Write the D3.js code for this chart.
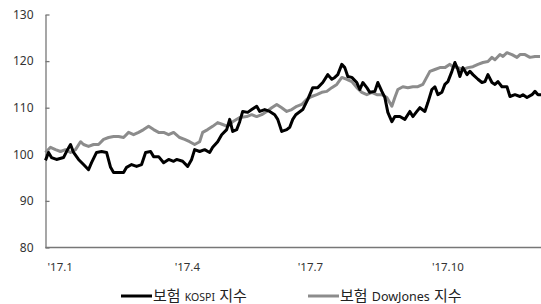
<!DOCTYPE html>
<html lang="ko">
<head>
<meta charset="utf-8">
<title>보험 KOSPI vs DowJones</title>
<script src="https://d3js.org/d3.v7.min.js"></script>
<style>
  body { margin: 0; background: #fff; }
  svg text { font-family: "Noto Sans", "Noto Sans CJK KR", sans-serif; }
</style>
</head>
<body>
<script>
// data: [trading day index, index value] (2017.1.2 = 100 basis)
var kospi = [
  [0, 98.7], [1.5, 100.4], [3, 99.3], [5.5, 98.9], [9, 99.3], [11, 101.0], [12.5, 102.1], [14, 100.4],
  [16.5, 98.9], [19, 97.8], [21.5, 96.7], [23, 98.2], [25.5, 100.4], [28, 100.6], [30.5, 100.4], [32.5, 97.2],
  [34, 96.1], [36.5, 96.1], [39, 96.1], [40.5, 97.2], [43, 97.8], [45.5, 97.4], [48, 97.8], [50, 100.4],
  [52.5, 100.6], [54, 99.5], [56.5, 99.5], [59, 98.2], [61.5, 98.9], [64, 98.5], [65.5, 98.9], [68.5, 98.5],
  [71, 97.4], [73, 98.9], [74.5, 101.0], [77, 100.6], [79.5, 101.0], [82, 100.4], [83.5, 101.5], [86, 102.7],
  [88, 104.2], [90.5, 105.3], [92, 107.5], [93.5, 104.9], [95.5, 105.3], [97, 107.0], [98.5, 109.2], [101, 109.0],
  [103, 109.6], [105.5, 110.3], [107, 109.2], [109.5, 109.6], [112, 109.2], [114.5, 108.5], [116, 107.5], [118, 104.9],
  [120.5, 105.3], [122, 105.8], [123.5, 107.5], [125, 108.5], [128.5, 109.6], [131, 111.8], [133.5, 114.3], [136, 114.3],
  [138.5, 115.4], [141, 117.1], [143, 116.1], [144.5, 116.5], [146, 117.1], [148, 119.3], [149.5, 118.6], [151, 116.7],
  [153, 116.5], [155.5, 115.4], [157, 113.9], [158.5, 115.4], [160.5, 114.3], [162, 113.3], [164.5, 113.5], [166, 115.4],
  [168, 113.5], [169.5, 112.2], [171, 109.0], [173, 107.0], [174.5, 108.1], [177, 108.1], [179.5, 107.5], [182, 109.2],
  [183.5, 108.1], [185.5, 109.2], [187, 110.0], [189.5, 109.2], [191, 111.1], [193, 113.9], [194.5, 114.5], [196, 112.8],
  [198, 113.3], [199.5, 115.0], [201, 115.6], [203, 117.8], [204.5, 119.7], [206, 118.2], [207, 116.7], [208.5, 118.6],
  [210.5, 117.1], [212, 117.8], [213.5, 117.1], [216, 116.1], [218, 115.4], [219.5, 115.6], [221, 117.1], [223, 115.4],
  [224.5, 115.0], [226, 115.6], [228, 114.5], [230.5, 114.5], [232, 112.4], [234.5, 112.8], [237, 112.4], [238.5, 112.8],
  [240.5, 112.2], [243, 112.8], [244.5, 113.5], [246, 112.8], [247.5, 112.8]
];
var dowjones = [
  [0, 100.4], [2.5, 101.5], [5, 101.0], [7.5, 100.6], [10, 101.0], [12.5, 100.4], [15, 101.0], [17.5, 102.7],
  [19, 102.1], [21.5, 101.7], [24, 102.1], [26.5, 102.1], [29, 103.2], [31.5, 103.6], [34, 103.8], [36.5, 103.8],
  [39, 103.6], [41.5, 104.7], [44, 104.2], [46.5, 104.7], [49, 105.3], [51.5, 106.0], [54, 105.3], [56.5, 104.7],
  [59, 104.7], [61.5, 104.2], [64, 104.7], [67, 103.6], [69.5, 103.2], [72, 102.7], [74.5, 102.1], [77, 102.7],
  [78.5, 104.7], [81, 105.3], [83.5, 106.0], [86, 106.8], [88.5, 106.4], [91, 106.0], [93.5, 107.0], [97, 107.9],
  [100.5, 108.1], [103, 108.5], [105.5, 108.1], [108, 108.5], [110.5, 109.2], [113, 110.0], [115.5, 110.7], [118, 110.0],
  [120.5, 109.2], [123, 109.6], [125.5, 110.3], [128, 110.7], [130.5, 111.8], [133, 112.4], [135.5, 112.8], [138, 113.3],
  [140.5, 113.5], [143, 114.3], [145.5, 115.0], [148, 116.5], [150.5, 116.1], [153, 115.6], [155.5, 114.3], [158, 113.3],
  [160.5, 112.8], [163, 113.3], [165.5, 112.8], [168, 112.8], [170.5, 112.2], [173, 110.3], [174.5, 112.2], [176, 113.9],
  [178.5, 114.5], [181, 114.3], [183.5, 114.5], [186, 114.5], [188.5, 115.0], [192, 117.8], [194.5, 118.2], [197, 118.6],
  [199.5, 118.6], [202, 119.3], [203.5, 118.8], [206, 118.6], [208.5, 118.2], [211, 118.6], [213.5, 118.8], [216, 119.3],
  [218.5, 119.7], [221, 119.9], [223, 120.8], [224.5, 120.3], [227, 121.4], [228.5, 121.0], [230.5, 121.8], [233, 121.4],
  [235.5, 120.8], [237, 121.4], [239.5, 121.4], [242, 120.8], [244.5, 121.0], [247, 121.0]
];
var yTicks = [80, 90, 100, 110, 120, 130];
var xTickDays = [1, 64.5, 126, 193];
var xTickLabels = ["'17.1", "'17.4", "'17.7", "'17.10"];
var seriesNames = ["보험 KOSPI 지수", "보험 DowJones 지수"];

var w = 541, h = 304;
var svg = d3.select("body").append("svg").attr("width", w).attr("height", h);

// scales
var x = d3.scaleLinear().domain([0, 247.5]).range([45.5, 541]);
var y = d3.scaleLinear().domain([80, 130]).range([247.5, 14.5]);

// y axis (ticks point inward)
var yAxis = d3.axisLeft(y).tickValues(yTicks).tickSizeInner(-4).tickSizeOuter(0).tickPadding(12);
var gy = svg.append("g").attr("transform", "translate(45.5,0)").call(yAxis);
gy.select(".domain").attr("stroke", "#777").attr("stroke-width", 1.3);
gy.selectAll(".tick line").attr("stroke", "#777").attr("stroke-width", 1.3);
gy.selectAll(".tick text").attr("font-size", 12).attr("fill", "#333");

// x axis line, no ticks
svg.append("line")
  .attr("x1", 45.5).attr("x2", w).attr("y1", y(80)).attr("y2", y(80))
  .attr("stroke", "#777").attr("stroke-width", 1.3);

svg.selectAll(".xlab").data(xTickDays).enter().append("text")
  .attr("class", "xlab")
  .attr("x", d => x(d))
  .attr("y", 271)
  .attr("font-size", 11.5)
  .attr("fill", "#333")
  .text((d, i) => xTickLabels[i]);

// lines
var line = d3.line().x(d => x(d[0])).y(d => y(d[1])).curve(d3.curveLinear);

svg.append("path").datum(dowjones)
  .attr("fill", "none").attr("stroke", "#8c8c8c").attr("stroke-width", 3)
  .attr("stroke-linejoin", "round").attr("d", line);

svg.append("path").datum(kospi)
  .attr("fill", "none").attr("stroke", "#000").attr("stroke-width", 3)
  .attr("stroke-linejoin", "round").attr("d", line);

// legend
var legend = [
  {x: 121, color: "#000", parts: ["보험 ", "KOSPI", " 지수"], small: true},
  {x: 308, color: "#8c8c8c", parts: ["보험 ", "DowJones", " 지수"], small: false}
];
legend.forEach(function(l, i) {
  svg.append("line")
    .attr("x1", l.x).attr("x2", l.x + 31).attr("y1", 296).attr("y2", 296)
    .attr("stroke", l.color).attr("stroke-width", 3);
  var t = svg.append("text").attr("x", l.x + 32).attr("y", 301)
    .attr("fill", "#222").attr("aria-label", seriesNames[i]);
  t.append("tspan").attr("font-family", "'Noto Sans CJK KR'").attr("font-size", 15).text(l.parts[0]);
  t.append("tspan").attr("font-size", l.small ? 10.5 : 12.5).text(l.parts[1]);
  t.append("tspan").attr("font-family", "'Noto Sans CJK KR'").attr("font-size", 15).text(l.parts[2]);
});
</script>
</body>
</html>
